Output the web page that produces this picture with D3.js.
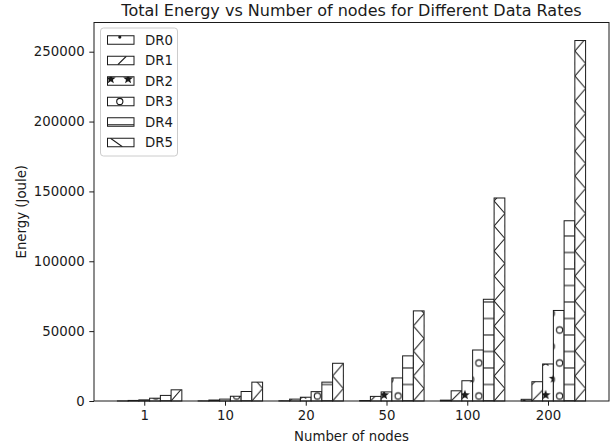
<!DOCTYPE html>
<html><head><meta charset="utf-8">
<script src="https://cdn.jsdelivr.net/npm/d3@7"></script>
<style>
body{margin:0;background:#fff}
text{font-family:"DejaVu Sans",sans-serif;fill:#1a1a1a}
</style>
</head><body>
<svg id="c" width="613" height="448"></svg>
<script>
// ---- data ----
const categories = ["1", "10", "20", "50", "100", "200"];
const seriesNames = ["DR0", "DR1", "DR2", "DR3", "DR4", "DR5"];
const DR0 = [40, 70, 140, 330, 600, 1200];
const DR1 = [400, 680, 1350, 3300, 7300, 13800];
const DR2 = [800, 1350, 2700, 6500, 14500, 26500];
const DR3 = [2000, 3400, 6700, 16500, 36500, 64800];
const DR4 = [4000, 6800, 13500, 32300, 72800, 129000];
const DR5 = [8000, 13500, 27000, 64500, 145300, 258000];
const seriesValues = [DR0, DR1, DR2, DR3, DR4, DR5];
const hatches = [".", "/", "*", "o", "-", "\\"];
const yTickValues = [0, 50000, 100000, 150000, 200000, 250000];
const titleText = "Total Energy vs Number of nodes for Different Data Rates";
const xLabelText = "Number of nodes";
const yLabelText = "Energy (Joule)";

// ---- layout ----
const L = 94, R = 609, T = 22.5, B = 401;
const barW = 0.133;
const n = categories.length;
const span = (n - 1) + 6 * barW;
const marg = 0.05 * span;
const maxV = d3.max(seriesValues.flat());

const x = d3.scaleLinear().domain([-2.5 * barW - marg, (n - 1) + 3.5 * barW + marg]).range([L, R]);
const y = d3.scaleLinear().domain([0, maxV * 1.05]).range([B, T]);

const svg = d3.select("#c");
const defs = svg.append("defs");
const S = 16.5;           // hatch spacing
const INK = "#1a1a1a";

function starPoints(cx, cy, ro, ri) {
  const pts = [];
  for (let k = 0; k < 10; k++) {
    const r = k % 2 === 0 ? ro : ri;
    const a = -Math.PI / 2 + k * Math.PI / 5;
    pts.push([cx + r * Math.cos(a), cy + r * Math.sin(a)]);
  }
  return pts.map(p => p.join(",")).join(" ");
}

function addPattern(id, type, bx, bw) {
  let w = S, h = S, x0 = bx, y0 = B;
  if (type === "." ) { h = 2 * S; x0 = bx + 3; y0 = B; }
  if (type === "*") { h = 2 * S; x0 = bx + 3; y0 = B - 6; }
  if (type === "o") { h = 2 * S; x0 = bx - 2; y0 = B - 5 - S; }
  if (type === "-") { y0 = B + 1; }
  if (type === "\\") { w = bw; h = 25; }
  const p = defs.append("pattern").attr("id", id)
    .attr("patternUnits", "userSpaceOnUse")
    .attr("x", x0).attr("y", y0).attr("width", w).attr("height", h);
  p.append("rect").attr("width", w).attr("height", h).attr("fill", "#fff");
  const grid = [[0, 0], [S, 0], [0, 2 * S], [S, 2 * S], [S / 2, S]];
  if (type === ".") {
    grid.forEach(([a, b]) => p.append("circle").attr("cx", a).attr("cy", b).attr("r", 1.6).attr("fill", INK));
  } else if (type === "o") {
    grid.forEach(([a, b]) => p.append("circle").attr("cx", a).attr("cy", b).attr("r", 3.1)
      .attr("fill", "none").attr("stroke", INK).attr("stroke-width", 1.1));
  } else if (type === "*") {
    grid.forEach(([a, b]) => p.append("polygon").attr("points", starPoints(a, b, 5.2, 2.2)).attr("fill", INK));
  } else if (type === "/") {
    p.append("path").attr("d", `M0,${S} L${S},0 M${-S/2},${S/2} L${S/2},${-S/2} M${S/2},${1.5*S} L${1.5*S},${S/2}`)
      .attr("stroke", INK).attr("stroke-width", 1.1).attr("fill", "none");
  } else if (type === "-") {
    p.append("path").attr("d", `M0,${S - 1} L${S},${S - 1}`)
      .attr("stroke", INK).attr("stroke-width", 1.1);
  } else if (type === "\\") {
    p.append("path").attr("d", `M0,0 L${w},${h/2} L0,${h}`)
      .attr("stroke", INK).attr("stroke-width", 1.1).attr("fill", "none");
  }
}

// ---- bars ----
const bw = x(barW) - x(0);
const gBars = svg.append("g");
seriesValues.forEach((vals, i) => {
  vals.forEach((v, g) => {
    const bx = x(g + (i - 2) * barW - barW / 2);
    const id = `h${i}_${g}`;
    addPattern(id, hatches[i], bx, bw);
    gBars.append("rect")
      .attr("x", bx).attr("y", y(v))
      .attr("width", bw).attr("height", y(0) - y(v))
      .attr("fill", `url(#${id})`)
      .attr("stroke", INK).attr("stroke-width", 1);
  });
});

// ---- axes ----
const tickLen = 4.7, tickPad = 4.7;
const yAxis = svg.append("g").attr("transform", `translate(${L},0)`)
  .call(d3.axisLeft(y).tickValues(yTickValues).tickFormat(d3.format("d")).tickSize(tickLen).tickPadding(tickPad));
const xAxis = svg.append("g").attr("transform", `translate(0,${B})`)
  .call(d3.axisBottom(x).tickValues(d3.range(n)).tickFormat((d, k) => categories[k]).tickSize(tickLen).tickPadding(tickPad));
[yAxis, xAxis].forEach(a => {
  a.select(".domain").remove();
  a.selectAll("line").attr("stroke", INK).attr("stroke-width", 1);
  a.selectAll("text").style("font-family", "DejaVu Sans").style("font-size", "13.3px").attr("fill", INK);
});
svg.append("rect").attr("x", L).attr("y", T).attr("width", R - L).attr("height", B - T)
  .attr("fill", "none").attr("stroke", INK).attr("stroke-width", 1);

// ---- labels ----
svg.append("text").attr("x", (L + R) / 2).attr("y", 15.5).attr("text-anchor", "middle")
  .style("font-size", "16px").text(titleText);
svg.append("text").attr("x", (L + R) / 2).attr("y", 441).attr("text-anchor", "middle")
  .style("font-size", "13.3px").text(xLabelText);
svg.append("text").attr("transform", `translate(25.5,${(T + B) / 2}) rotate(-90)`).attr("text-anchor", "middle")
  .style("font-size", "13.3px").text(yLabelText);

// ---- legend ----
const lg = svg.append("g");
const lx = 100.5, ly = 28, rowH = 20.5;
lg.append("rect").attr("x", lx).attr("y", ly).attr("width", 77).attr("height", 128)
  .attr("rx", 3).attr("fill", "#fff").attr("fill-opacity", 0.8).attr("stroke", "#cccccc").attr("stroke-width", 1);

function legendHatch(g, type, px, top, pw, ph) {
  const bot = top + ph, mid = top + ph / 2;
  const ln = (x1, y1, x2, y2) => g.append("line").attr("x1", x1).attr("y1", y1).attr("x2", x2).attr("y2", y2)
    .attr("stroke", INK).attr("stroke-width", 1.1);
  if (type === ".") g.append("circle").attr("cx", px + 12.3).attr("cy", top + 1.3).attr("r", 1.6).attr("fill", INK);
  if (type === "/") ln(px + 10.3, bot, px + 10.3 + ph, top);
  if (type === "*") [3.3, 20.6].forEach(o => g.append("polygon").attr("points", starPoints(px + o, top + 2.3, 5.2, 2.2)).attr("fill", INK));
  if (type === "o") [-3.7, 12.3].forEach(o => g.append("circle").attr("cx", px + o).attr("cy", mid).attr("r", 3.1)
    .attr("fill", "none").attr("stroke", INK).attr("stroke-width", 1.1));
  if (type === "-") ln(px, bot - 1.5, px + pw, bot - 1.5);
  if (type === "\\") ln(px + 3, top, px + 3 + ph * 1.4, bot);
}

seriesNames.forEach((name, i) => {
  const cy = ly + 12 + i * rowH;
  const px = lx + 7, pw = 26.5, ph = 8.5, top = cy - ph / 2;
  const cid = `lc${i}`;
  defs.append("clipPath").attr("id", cid).append("rect").attr("x", px).attr("y", top).attr("width", pw).attr("height", ph);
  lg.append("rect").attr("x", px).attr("y", top).attr("width", pw).attr("height", ph).attr("fill", "#fff");
  legendHatch(lg.append("g").attr("clip-path", `url(#${cid})`), hatches[i], px, top, pw, ph);
  lg.append("rect").attr("x", px).attr("y", top).attr("width", pw).attr("height", ph)
    .attr("fill", "none").attr("stroke", INK).attr("stroke-width", 1);
  lg.append("text").attr("x", px + pw + 11).attr("y", cy + 4.8)
    .style("font-size", "13.3px").text(name);
});
</script>
</body></html>
